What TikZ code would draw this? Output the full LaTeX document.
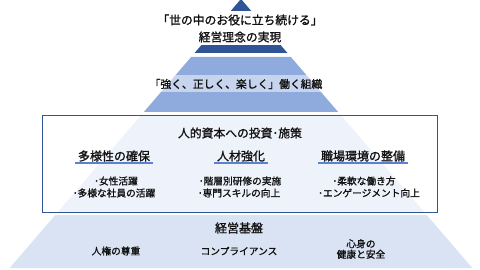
\documentclass[tikz,border=0pt]{standalone}
\usepackage{fontspec}
\setmainfont{Noto Sans CJK JP}[FakeBold=1.3]
\definecolor{dkblue}{HTML}{2F5597}
\definecolor{mdblue}{HTML}{8FAADC}
\definecolor{ltblue}{HTML}{DAE3F3}
\definecolor{plblue}{HTML}{EEF2FA}
\definecolor{lnblue}{HTML}{5B82CF}
\definecolor{txt}{HTML}{111111}
\tikzset{
  lbl/.style={text=txt, inner sep=0pt, align=center},
  head/.style={lbl, font=\fontsize{12}{14}\selectfont, inner xsep=3pt, inner ysep=1.2pt},
  item/.style={lbl, font=\fontsize{9.7}{12}\selectfont},
  uline/.style={draw=lnblue, line width=1.8pt}
}
\begin{document}
\begin{tikzpicture}[x=1pt,y=-1pt]
\useasboundingbox (0,0) rectangle (480,270);
% layers
\fill[dkblue] (241,-1) -- (194.56,53) -- (287.44,53) -- cycle;
\fill[mdblue] (191.12,57) -- (290.88,57) -- (338.18,112) -- (143.82,112) -- cycle;
\fill[plblue] (141.24,115) -- (340.76,115) -- (424.18,212) -- (57.82,212) -- cycle;
\fill[ltblue] (55.24,215) -- (426.76,215) -- (472.34,268) -- (9.66,268) -- cycle;
% top
\node[lbl, fill=white, minimum width=170pt, minimum height=34pt, font=\fontsize{11.8}{17}\selectfont] (top) at (240,28.5)
  {「世の中のお役に立ち続ける」\\経営理念の実現};
% layer 2
\node[lbl, fill=white, fill opacity=0.5, text opacity=1, minimum width=172pt, minimum height=17pt, font=\fontsize{10.8}{13}\selectfont] (org) at (236,84)
  {「強く、正しく、楽しく」働く組織};
% box
\node[draw=dkblue, line width=0.8pt, minimum width=394.3pt, minimum height=97pt, inner sep=0pt] (box) at (239.85,163.5) {};
\node[lbl, font=\fontsize{11.8}{14}\selectfont] (inv) at (240,133) {人的資本への投資･施策};
\node[head] (h1) at (114,156) {多様性の確保};
\node[head] (h2) at (241,156) {人材強化};
\node[head] (h3) at (363,156) {職場環境の整備};
\draw[uline] (h1.south west) -- (h1.south east);
\draw[uline] (h2.south west) -- (h2.south east);
\draw[uline] (h3.south west) -- (h3.south east);
\node[item] (a1) at (116,181) {･女性活躍};
\node[item] (a2) at (114,193) {･多様な社員の活躍};
\node[item] (b1) at (240,181) {･階層別研修の実施};
\node[item] (b2) at (239,193) {･専門スキルの向上};
\node[item] (c1) at (364,181) {･柔軟な働き方};
\node[item] (c2) at (369,193) {･エンゲージメント向上};
% base
\node[lbl, font=\fontsize{12}{14}\selectfont] (base) at (239,228) {経営基盤};
\node[item] (d1) at (116,251) {人権の尊重};
\node[item] (d2) at (239,251) {コンプライアンス};
\node[item, font=\fontsize{9.7}{10.5}\selectfont] (d3) at (361,249) {心身の\\健康と安全};
\end{tikzpicture}
\end{document}
